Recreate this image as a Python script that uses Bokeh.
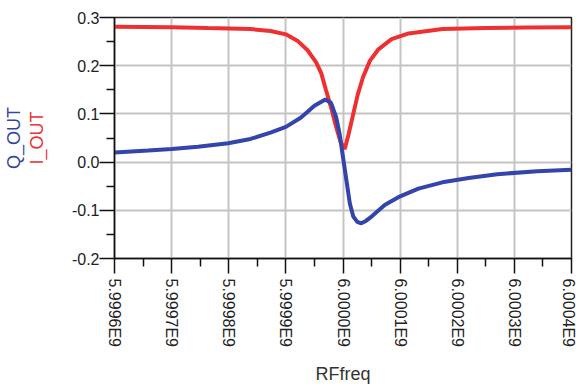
import math
from bokeh.plotting import figure
from bokeh.models import (LinearAxis, FixedTicker, CustomJSTickFormatter, Range1d)
from bokeh.embed import file_html
from bokeh.resources import INLINE

# ---- data: frequency offset from 6 GHz (kHz) and outputs ----
CENTER_HZ = 6.0e9
i_freq_khz = [-400, -300, -236, -162, -127, -100, -80, -62, -47, -38, -30, -21,
              -12, -4, 3, 10, 18, 26, 35, 47, 62, 85, 115, 174, 250, 320, 400]
i_out = [0.281, 0.280, 0.278, 0.276, 0.272, 0.265, 0.252, 0.232, 0.207, 0.184,
         0.150, 0.114, 0.073, 0.041, 0.027, 0.059, 0.100, 0.141, 0.176, 0.210,
         0.234, 0.255, 0.267, 0.276, 0.278, 0.279, 0.280]

q_freq_khz = [-400, -341, -300, -254, -201, -162, -127, -100, -74, -50, -31, -21,
              -12, -6, 0, 6, 12, 18, 25, 32, 40, 50, 73, 100, 132, 174, 220,
              270, 340, 400]
q_out = [0.020, 0.024, 0.027, 0.032, 0.039, 0.048, 0.061, 0.073, 0.092, 0.117,
         0.130, 0.123, 0.093, 0.059, 0.010, -0.038, -0.086, -0.113, -0.124,
         -0.127, -0.122, -0.113, -0.089, -0.071, -0.055, -0.042, -0.033,
         -0.025, -0.019, -0.016]

x_ticks_ghz = [5.9996, 5.9997, 5.9998, 5.9999, 6.0000, 6.0001, 6.0002, 6.0003, 6.0004]
y_ticks = [-0.2, -0.1, 0.0, 0.1, 0.2, 0.3]

RED = "#ee3030"
BLUE = "#3344aa"
FONT = "Liberation Sans"

i_freq = [CENTER_HZ + f * 1e3 for f in i_freq_khz]
q_freq = [CENTER_HZ + f * 1e3 for f in q_freq_khz]
x_ticks = [f * 1e9 for f in x_ticks_ghz]
x_minor = [(a + b) / 2 for a, b in zip(x_ticks[:-1], x_ticks[1:])]
y_minor = [(a + b) / 2 for a, b in zip(y_ticks[:-1], y_ticks[1:])]

p = figure(width=576, height=387, output_backend="svg", toolbar_location=None,
           x_range=Range1d(x_ticks[0], x_ticks[-1]), y_range=Range1d(-0.2, 0.3),
           x_axis_location=None, y_axis_location=None)
p.min_border_left = 0
p.min_border_right = 5
p.min_border_top = 17
p.min_border_bottom = 126
p.outline_line_color = "#222222"
p.outline_line_width = 1.5
p.background_fill_color = "white"
p.border_fill_color = "white"

# main y axis (inner title: I_OUT)
ya = LinearAxis(ticker=FixedTicker(ticks=y_ticks, minor_ticks=y_minor),
                formatter=CustomJSTickFormatter(code="return tick.toFixed(1);"))
ya.axis_label = "I_OUT"
ya.axis_label_text_color = RED
ya.axis_label_text_font = FONT
ya.axis_label_text_font_size = "18px"
ya.axis_label_text_font_style = "normal"
ya.axis_label_standoff = 22
ya.major_label_text_font = FONT
ya.major_label_text_font_size = "16px"
ya.major_label_text_color = "#222222"
ya.major_label_standoff = 0
ya.major_tick_in = 0
ya.major_tick_out = 15
ya.minor_tick_in = 0
ya.minor_tick_out = 8
ya.axis_line_color = "#111111"
ya.axis_line_width = 1.5
ya.major_tick_line_color = "#111111"
ya.major_tick_line_width = 1.5
ya.minor_tick_line_color = "#111111"
ya.minor_tick_line_width = 1.5
p.add_layout(ya, "left")

# outer title axis (Q_OUT), only its label shows
ya2 = LinearAxis(ticker=FixedTicker(ticks=[]))
ya2.axis_label = "Q_OUT"
ya2.axis_label_text_color = BLUE
ya2.axis_label_text_font = FONT
ya2.axis_label_text_font_size = "18px"
ya2.axis_label_text_font_style = "normal"
ya2.axis_label_standoff = 0
ya2.major_label_standoff = 0
ya2.major_tick_out = 0
ya2.minor_tick_out = 0
ya2.axis_line_color = None
p.add_layout(ya2, "left")

# x axis
xa = LinearAxis(ticker=FixedTicker(ticks=x_ticks, minor_ticks=x_minor),
                formatter=CustomJSTickFormatter(code="return (tick/1e9).toFixed(4) + 'E9';"))
xa.axis_label = "RFfreq"
xa.axis_label_text_color = "#333333"
xa.axis_label_text_font = FONT
xa.axis_label_text_font_size = "18px"
xa.axis_label_text_font_style = "normal"
xa.axis_label_standoff = 14
xa.major_label_orientation = -math.pi / 2
xa.major_label_text_font = FONT
xa.major_label_text_font_size = "16px"
xa.major_label_text_color = "#222222"
xa.major_label_standoff = 5
xa.major_tick_in = 0
xa.major_tick_out = 15
xa.minor_tick_in = 0
xa.minor_tick_out = 8
xa.axis_line_color = "#111111"
xa.axis_line_width = 1.5
xa.major_tick_line_color = "#111111"
xa.major_tick_line_width = 1.5
xa.minor_tick_line_color = "#111111"
xa.minor_tick_line_width = 1.5
p.add_layout(xa, "below")

p.xgrid.ticker = FixedTicker(ticks=x_ticks)
p.ygrid.ticker = FixedTicker(ticks=y_ticks)
for g in (p.xgrid, p.ygrid):
    g.grid_line_color = "#c4c4c4"
    g.grid_line_width = 2

p.line(i_freq, i_out, line_color=RED, line_width=4)
p.line(q_freq, q_out, line_color=BLUE, line_width=4)

open("out.html", "w").write(file_html(p, INLINE))
